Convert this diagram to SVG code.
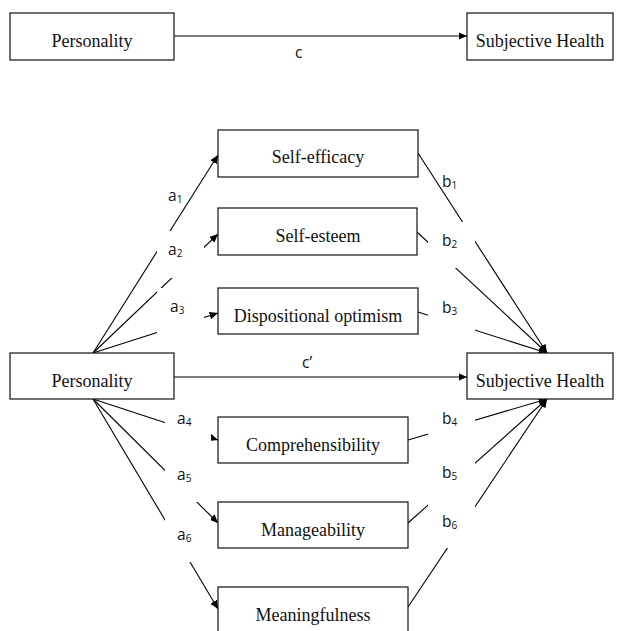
<svg xmlns="http://www.w3.org/2000/svg" width="626" height="631" viewBox="0 0 626 631">
<style>
.box{fill:#fff;stroke:#111;stroke-width:1.2}
.bt{font-family:"Liberation Serif","Times New Roman",serif;font-size:18px;fill:#111;text-anchor:middle}
.ln{stroke:#000;stroke-width:1.1;fill:none;marker-end:url(#ah)}
.lb{font-family:"Open Sans","Noto Sans",sans-serif;font-size:15.5px;fill:#111}
.sb{font-size:10px}
.mask{fill:#fff}
</style>
<defs>
<marker id="ah" markerUnits="userSpaceOnUse" markerWidth="9" markerHeight="8" refX="8.5" refY="3.8" orient="auto">
<path d="M0,0 L8.5,3.8 L0,7.6 z" fill="#000"/>
</marker>
</defs>
<rect width="626" height="631" fill="#fff"/>
<g id="connectors">
<line class="ln" x1="174" y1="36" x2="467" y2="36"/>
<line class="ln" x1="174" y1="377" x2="467" y2="377"/>
<line class="ln" x1="93" y1="353" x2="218" y2="155"/>
<line class="ln" x1="93" y1="353" x2="218" y2="234"/>
<line class="ln" x1="93" y1="353" x2="218" y2="313"/>
<line class="ln" x1="93" y1="399" x2="218" y2="440"/>
<line class="ln" x1="93" y1="399" x2="218" y2="523"/>
<line class="ln" x1="93" y1="399" x2="218" y2="609"/>
<line class="ln" x1="418" y1="153" x2="547" y2="353"/>
<line class="ln" x1="417" y1="232" x2="547" y2="353"/>
<line class="ln" x1="418" y1="312" x2="547" y2="353"/>
<line class="ln" x1="408" y1="440" x2="547" y2="399"/>
<line class="ln" x1="408" y1="523" x2="547" y2="399"/>
<line class="ln" x1="408" y1="607" x2="547" y2="399"/>
</g>
<g id="label-masks">
<rect class="mask" x="157" y="231" width="47" height="47"/>
<rect class="mask" x="157" y="288" width="47" height="49"/>
<rect class="mask" x="165" y="410" width="46" height="92"/>
<rect class="mask" x="165" y="518" width="46" height="44"/>
<rect class="mask" x="428" y="222" width="47" height="46"/>
<rect class="mask" x="428" y="288" width="47" height="49"/>
<rect class="mask" x="428" y="410" width="47" height="138"/>
</g>
<g id="labels">
<text class="lb" x="295" y="58">c</text>
<text class="lb" x="302" y="368">c’</text>
<text class="lb" x="168" y="201">a<tspan class="sb" dy="2">1</tspan></text>
<text class="lb" x="168" y="255">a<tspan class="sb" dy="2">2</tspan></text>
<text class="lb" x="170" y="312">a<tspan class="sb" dy="2">3</tspan></text>
<text class="lb" x="177" y="424">a<tspan class="sb" dy="2">4</tspan></text>
<text class="lb" x="177" y="480">a<tspan class="sb" dy="2">5</tspan></text>
<text class="lb" x="177" y="540">a<tspan class="sb" dy="2">6</tspan></text>
<text class="lb" x="442" y="187">b<tspan class="sb" dy="2">1</tspan></text>
<text class="lb" x="442" y="246">b<tspan class="sb" dy="2">2</tspan></text>
<text class="lb" x="442" y="313">b<tspan class="sb" dy="2">3</tspan></text>
<text class="lb" x="442" y="424">b<tspan class="sb" dy="2">4</tspan></text>
<text class="lb" x="442" y="478">b<tspan class="sb" dy="2">5</tspan></text>
<text class="lb" x="442" y="527">b<tspan class="sb" dy="2">6</tspan></text>
</g>
<g id="personality-top"><rect class="box" x="10" y="13" width="164" height="47"/><text class="bt" x="92" y="47">Personality</text></g>
<g id="health-top"><rect class="box" x="467" y="13" width="146" height="47"/><text class="bt" x="540" y="47">Subjective Health</text></g>
<g id="personality"><rect class="box" x="10" y="353" width="164" height="46"/><text class="bt" x="92" y="387">Personality</text></g>
<g id="health"><rect class="box" x="467" y="353" width="146" height="46"/><text class="bt" x="540" y="387">Subjective Health</text></g>
<g id="self-efficacy"><rect class="box" x="218" y="130" width="200" height="47"/><text class="bt" x="318" y="163">Self-efficacy</text></g>
<g id="self-esteem"><rect class="box" x="218" y="208" width="199" height="47"/><text class="bt" x="318" y="242">Self-esteem</text></g>
<g id="optimism"><rect class="box" x="218" y="288" width="200" height="46"/><text class="bt" x="318" y="322">Dispositional optimism</text></g>
<g id="comprehensibility"><rect class="box" x="218" y="417" width="190" height="46"/><text class="bt" x="313" y="451">Comprehensibility</text></g>
<g id="manageability"><rect class="box" x="218" y="502" width="190" height="46"/><text class="bt" x="313" y="536">Manageability</text></g>
<g id="meaningfulness"><rect class="box" x="218" y="587" width="190" height="48"/><text class="bt" x="313" y="621">Meaningfulness</text></g>
</svg>
